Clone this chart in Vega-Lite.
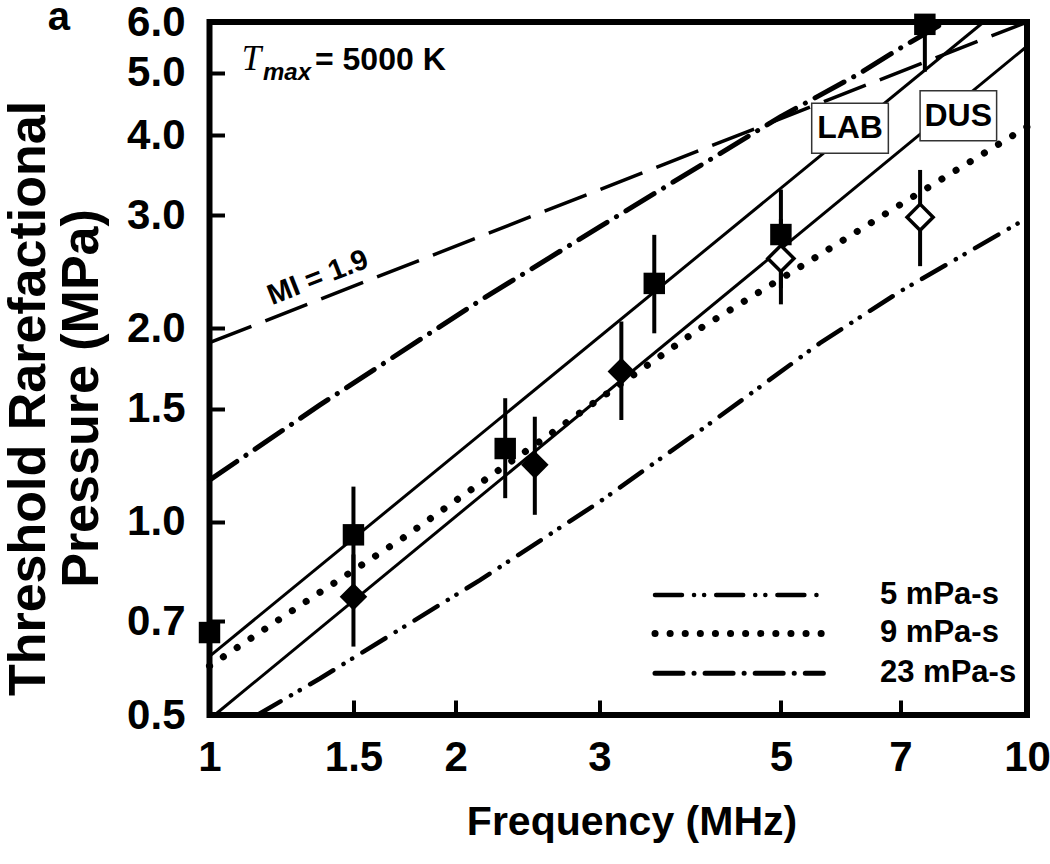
{
  "$schema": "https://vega.github.io/schema/vega-lite/v6.json",
  "width": 817.5,
  "height": 693,
  "autosize": {"type": "none"},
  "padding": {"left": 209.5, "top": 22, "right": 23, "bottom": 149},
  "background": "white",
  "config": {
    "view": {"stroke": "black", "strokeWidth": 6},
    "font": "Liberation Sans"
  },
  "datasets": {
    "curves": [
      {"series": "MI", "f": 1, "p": 1.9},
      {"series": "MI", "f": 10, "p": 6.0},
      {"series": "LAB", "f": 1, "p": 0.617},
      {"series": "LAB", "f": 8.85, "p": 6.0},
      {"series": "DUS", "f": 1.0145, "p": 0.5},
      {"series": "DUS", "f": 10, "p": 5.5},
      {"series": "v23", "f": 1, "p": 1.161},
      {"series": "v23", "f": 1.365, "p": 1.52},
      {"series": "v23", "f": 2.142, "p": 2.21},
      {"series": "v23", "f": 3.004, "p": 2.88},
      {"series": "v23", "f": 4.99, "p": 4.27},
      {"series": "v23", "f": 6.19, "p": 4.96},
      {"series": "v23", "f": 7.06, "p": 5.5},
      {"series": "v23", "f": 7.94, "p": 6.0},
      {"series": "v9", "f": 1, "p": 0.596},
      {"series": "v9", "f": 1.339, "p": 0.764},
      {"series": "v9", "f": 1.724, "p": 0.943},
      {"series": "v9", "f": 2.216, "p": 1.183},
      {"series": "v9", "f": 2.624, "p": 1.375},
      {"series": "v9", "f": 2.97, "p": 1.54},
      {"series": "v9", "f": 3.958, "p": 1.99},
      {"series": "v9", "f": 5.55, "p": 2.594},
      {"series": "v9", "f": 7.15, "p": 3.171},
      {"series": "v9", "f": 10, "p": 4.12},
      {"series": "v5", "f": 1.144, "p": 0.5},
      {"series": "v5", "f": 1.365, "p": 0.57},
      {"series": "v5", "f": 2.142, "p": 0.811},
      {"series": "v5", "f": 3.004, "p": 1.075},
      {"series": "v5", "f": 4.018, "p": 1.398},
      {"series": "v5", "f": 5.58, "p": 1.897},
      {"series": "v5", "f": 6.99, "p": 2.282},
      {"series": "v5", "f": 10, "p": 2.97}
    ],
    "legend": [
      {"series": "v5", "label": "5 mPa-s", "f": 3.507, "f2": 5.635, "fl": 6.61, "p": 0.769},
      {"series": "v9", "label": "9 mPa-s", "f": 3.507, "f2": 5.635, "fl": 6.61, "p": 0.67},
      {"series": "v23", "label": "23 mPa-s", "f": 3.507, "f2": 5.635, "fl": 6.61, "p": 0.581}
    ],
    "points": [
      {"kind": "square", "f": 1.0, "p": 0.672, "lo": 0.672, "hi": 0.672},
      {"kind": "square", "f": 1.5, "p": 0.954, "lo": 0.774, "hi": 1.134},
      {"kind": "square", "f": 2.3, "p": 1.3, "lo": 1.088, "hi": 1.557},
      {"kind": "square", "f": 3.5, "p": 2.35, "lo": 1.965, "hi": 2.797},
      {"kind": "square", "f": 5.0, "p": 2.8, "lo": 2.31, "hi": 3.29},
      {"kind": "square", "f": 7.5, "p": 5.95, "lo": 5.02, "hi": 6.0},
      {"kind": "diamond", "f": 1.5, "p": 0.764, "lo": 0.639, "hi": 0.889},
      {"kind": "diamond", "f": 2.5, "p": 1.226, "lo": 1.025, "hi": 1.457},
      {"kind": "diamond", "f": 3.19, "p": 1.713, "lo": 1.44, "hi": 2.05},
      {"kind": "open", "f": 5.0, "p": 2.57, "lo": 2.18, "hi": 2.96},
      {"kind": "open", "f": 7.4, "p": 2.98, "lo": 2.5, "hi": 3.53}
    ],
    "boxes": [
      {"label": "LAB", "f1": 5.453, "f2": 6.767, "p1": 4.485, "p2": 3.749, "fc": 6.075, "pc": 4.1},
      {"label": "DUS", "f1": 7.4, "f2": 9.18, "p1": 4.69, "p2": 3.918, "fc": 8.24, "pc": 4.285}
    ],
    "notes": [
      {"id": "a", "text": "a", "f": 0.634, "p": 5.84},
      {"id": "T", "text": "T", "f": 1.095, "p": 5.054},
      {"id": "max", "text": "max", "f": 1.1626, "p": 4.876},
      {"id": "eq", "text": "= 5000 K", "f": 1.346, "p": 5.054},
      {"id": "MI", "text": "MI = 1.9", "f": 1.357, "p": 2.4}
    ]
  },
  "encoding": {
    "x": {
      "field": "f", "type": "quantitative",
      "scale": {"type": "log", "domain": [1, 10], "nice": false},
      "axis": {
        "values": [1, 1.5, 2, 3, 5, 7, 10], "format": "~g",
        "title": "Frequency (MHz)", "domain": false, "grid": false,
        "tickSize": -15, "tickWidth": 4, "tickColor": "black",
        "labelFont": "Liberation Sans", "labelFontSize": 42, "labelFontWeight": "bold", "labelColor": "black",
        "labelPadding": 37, "labelFlush": false, "labelOverlap": false,
        "titleFont": "Liberation Sans", "titleFontSize": 41, "titleFontWeight": "bold", "titleColor": "black",
        "titleX": 422, "titleY": 119, "titleBaseline": "alphabetic", "titleAlign": "center"
      }
    },
    "y": {
      "field": "p", "type": "quantitative",
      "scale": {"type": "log", "domain": [0.5, 6], "nice": false},
      "axis": {
        "values": [0.5, 0.7, 1, 1.5, 2, 3, 4, 5, 6], "format": ".1f",
        "title": ["Threshold Rarefactional", "Pressure (MPa)"], "domain": false, "grid": false,
        "tickSize": -15, "tickWidth": 4, "tickColor": "black",
        "labelFontSize": 42, "labelFontWeight": "bold", "labelColor": "black",
        "labelPadding": 39.5, "labelFlush": false, "labelOverlap": false,
        "titleFontSize": 52, "titleFontWeight": "bold", "titleColor": "black", "titleLineHeight": 53,
        "titleX": -181, "titleY": 376, "titleBaseline": "middle", "titleAlign": "center", "titleAngle": 270
      }
    }
  },
  "layer": [
    {
      "data": {"name": "curves"},
      "transform": [{"filter": "datum.series == 'MI'"}],
      "mark": {"type": "line", "color": "black", "strokeWidth": 3.5, "strokeDash": [45, 15]}
    },
    {
      "data": {"name": "curves"},
      "transform": [{"filter": "datum.series == 'LAB'"}],
      "mark": {"type": "line", "color": "black", "strokeWidth": 3}
    },
    {
      "data": {"name": "curves"},
      "transform": [{"filter": "datum.series == 'DUS'"}],
      "mark": {"type": "line", "color": "black", "strokeWidth": 3}
    },
    {
      "data": {"name": "curves"},
      "transform": [{"filter": "datum.series == 'v23'"}],
      "mark": {"type": "line", "color": "black", "strokeWidth": 5, "strokeCap": "round", "strokeDash": [33, 11, 0.1, 11]}
    },
    {
      "data": {"name": "curves"},
      "transform": [{"filter": "datum.series == 'v9'"}],
      "mark": {"type": "line", "color": "black", "strokeWidth": 7, "strokeCap": "round", "strokeDash": [0.1, 16.5]}
    },
    {
      "data": {"name": "curves"},
      "transform": [{"filter": "datum.series == 'v5'"}],
      "mark": {"type": "line", "color": "black", "strokeWidth": 4.5, "strokeCap": "round", "strokeDash": [27, 12, 0.1, 10, 0.1, 12]}
    },
    {
      "data": {"name": "legend"},
      "transform": [{"filter": "datum.series == 'v5'"}],
      "mark": {"type": "rule", "color": "black", "strokeWidth": 4.5, "strokeCap": "round", "strokeDash": [27, 12, 0.1, 10, 0.1, 12]},
      "encoding": {"x2": {"field": "f2"}}
    },
    {
      "data": {"name": "legend"},
      "transform": [{"filter": "datum.series == 'v9'"}],
      "mark": {"type": "rule", "color": "black", "strokeWidth": 7, "strokeCap": "round", "strokeDash": [0.1, 15]},
      "encoding": {"x2": {"field": "f2"}}
    },
    {
      "data": {"name": "legend"},
      "transform": [{"filter": "datum.series == 'v23'"}],
      "mark": {"type": "rule", "color": "black", "strokeWidth": 5, "strokeCap": "round", "strokeDash": [28, 11, 0.1, 11]},
      "encoding": {"x2": {"field": "f2"}}
    },
    {
      "data": {"name": "legend"},
      "mark": {"type": "text", "align": "left", "baseline": "middle", "fontSize": 31, "fontWeight": "bold", "color": "black"},
      "encoding": {"x": {"field": "fl", "type": "quantitative"}, "text": {"field": "label"}}
    },
    {
      "data": {"name": "points"},
      "mark": {"type": "rule", "color": "black", "strokeWidth": 4},
      "encoding": {"y": {"field": "lo", "type": "quantitative"}, "y2": {"field": "hi"}}
    },
    {
      "data": {"name": "points"},
      "transform": [{"filter": "datum.kind == 'square'"}],
      "mark": {"type": "point", "shape": "square", "filled": true, "color": "black", "size": 460, "opacity": 1}
    },
    {
      "data": {"name": "points"},
      "transform": [{"filter": "datum.kind == 'diamond'"}],
      "mark": {"type": "point", "shape": "diamond", "filled": true, "color": "black", "size": 760, "opacity": 1}
    },
    {
      "data": {"name": "points"},
      "transform": [{"filter": "datum.kind == 'open'"}],
      "mark": {"type": "point", "shape": "diamond", "filled": true, "fill": "white", "stroke": "black", "strokeWidth": 3.5, "size": 680, "opacity": 1}
    },
    {
      "data": {"name": "boxes"},
      "mark": {"type": "rect", "fill": "white", "stroke": "#333333", "strokeWidth": 1.5},
      "encoding": {
        "x": {"field": "f1", "type": "quantitative"},
        "x2": {"field": "f2"},
        "y": {"field": "p1", "type": "quantitative"},
        "y2": {"field": "p2"}
      }
    },
    {
      "data": {"name": "boxes"},
      "mark": {"type": "text", "align": "center", "baseline": "middle", "fontSize": 32, "fontWeight": "bold", "color": "black"},
      "encoding": {
        "x": {"field": "fc", "type": "quantitative"},
        "y": {"field": "pc", "type": "quantitative"},
        "text": {"field": "label"}
      }
    },
    {
      "data": {"name": "notes"},
      "transform": [{"filter": "datum.id == 'a'"}],
      "mark": {"type": "text", "align": "left", "baseline": "alphabetic", "fontSize": 40, "fontWeight": "bold", "color": "black"},
      "encoding": {"text": {"field": "text"}}
    },
    {
      "data": {"name": "notes"},
      "transform": [{"filter": "datum.id == 'T'"}],
      "mark": {"type": "text", "align": "left", "baseline": "alphabetic", "font": "Liberation Serif", "fontStyle": "italic", "fontSize": 35, "color": "black"},
      "encoding": {"text": {"field": "text"}}
    },
    {
      "data": {"name": "notes"},
      "transform": [{"filter": "datum.id == 'max'"}],
      "mark": {"type": "text", "align": "left", "baseline": "alphabetic", "fontStyle": "italic", "fontWeight": "bold", "fontSize": 24, "color": "black"},
      "encoding": {"text": {"field": "text"}}
    },
    {
      "data": {"name": "notes"},
      "transform": [{"filter": "datum.id == 'eq'"}],
      "mark": {"type": "text", "align": "left", "baseline": "alphabetic", "fontWeight": "bold", "fontSize": 32, "color": "black"},
      "encoding": {"text": {"field": "text"}}
    },
    {
      "data": {"name": "notes"},
      "transform": [{"filter": "datum.id == 'MI'"}],
      "mark": {"type": "text", "align": "center", "baseline": "middle", "fontWeight": "bold", "fontSize": 29, "angle": 338.6, "color": "black"},
      "encoding": {"text": {"field": "text"}}
    }
  ]
}
